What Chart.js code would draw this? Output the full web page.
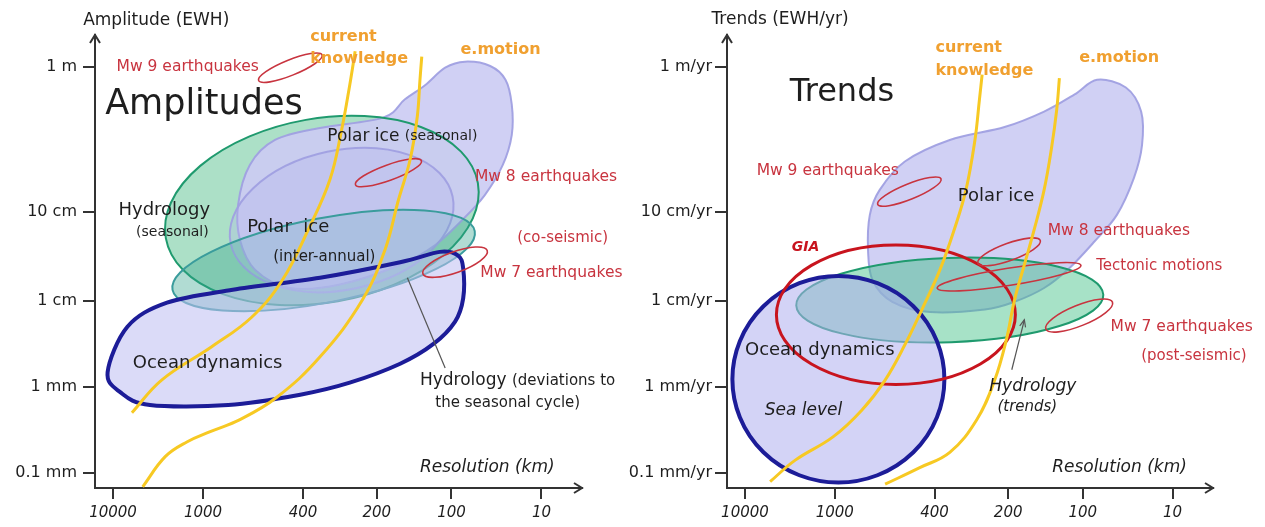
<!DOCTYPE html>
<html>
<head>
<meta charset="utf-8">
<style>
  html, body { margin: 0; padding: 0; background: #fff; }
  #wrap { position: relative; width: 1265px; height: 527px; }
  .panel { position: absolute; top: 0; height: 527px; }
  #p1 { left: 0; width: 632px; }
  #p2 { left: 612px; width: 653px; }
</style>
<script src="https://cdn.jsdelivr.net/npm/chart.js@4"></script>
</head>
<body>
<div id="wrap">
  <div class="panel" id="p1"><canvas id="amp"></canvas></div>
  <div class="panel" id="p2"><canvas id="trend"></canvas></div>
</div>
<script>
// schematic axes: ticks are not evenly spaced in log, so keep their positions
const resLabels = ['10000', '1000', '400', '200', '100', '10'];
const resTicks = [0, 1, 2.11, 2.93, 3.76, 4.76];
const ampLabels = ['0.1 mm', '1 mm', '1 cm', '10 cm', '1 m'];
const trendLabels = ['0.1 mm/yr', '1 mm/yr', '1 cm/yr', '10 cm/yr', '1 m/yr'];
const sizeTicks = [0, 1, 2, 3.03, 4.72];

// capability curves, [resolution, size] in axis units
const ampKnowledge = [[0.21,0.70],[0.54,1.08],[1.10,1.47],[1.54,1.81],[1.88,2.24],[2.17,2.83],[2.41,3.41],[2.54,3.99],[2.63,4.51],[2.69,4.90]];
const ampEmotion = [[0.33,-0.16],[0.58,0.19],[0.82,0.36],[1.08,0.48],[1.41,0.62],[1.82,0.88],[2.30,1.35],[2.77,2.01],[3.02,2.59],[3.17,3.17],[3.30,3.64],[3.38,4.14],[3.41,4.57],[3.43,4.84]];
const trendKnowledge = [[0.28,-0.10],[0.56,0.15],[0.98,0.42],[1.30,0.73],[1.56,1.08],[1.78,1.49],[1.97,1.90],[2.17,2.36],[2.33,2.83],[2.46,3.29],[2.56,3.87],[2.61,4.34],[2.64,4.63]];
const trendEmotion = [[1.56,-0.13],[1.94,0.06],[2.28,0.24],[2.58,0.62],[2.78,1.08],[2.91,1.55],[3.00,2.01],[3.11,2.42],[3.22,2.83],[3.33,3.29],[3.41,3.76],[3.47,4.22],[3.50,4.59]];

// signal ellipses: [centre res, centre size, half length (res units), half width (size units), tilt deg]
const ampHydroSeasonal = [2.32, 3.05, 1.76, 1.07, -10];
const ampHydroDev = [2.34, 2.47, 1.71, 0.49, -11];
const ampPolarInter = [2.54, 2.94, 1.26, 0.81, -12];
const ampMw9 = [1.97, 4.71, 0.38, 0.09, -22];
const ampMw8 = [3.06, 3.49, 0.39, 0.09, -20];
const ampMw7 = [3.80, 2.45, 0.38, 0.12, -20];
const trendHydro = [2.28, 2.01, 1.71, 0.49, -2];
const trendOcean = [1.04, 1.09, 1.18, 1.20, 0];
const trendGIA = [1.68, 1.84, 1.33, 0.81, 0];
const trendMw9 = [1.83, 3.27, 0.38, 0.09, -22];
const trendMw8 = [2.94, 2.57, 0.37, 0.10, -20];
const trendTectonic = [2.94, 2.28, 0.81, 0.10, -9];
const trendMw7 = [3.72, 1.83, 0.40, 0.12, -22];

// free-form signal outlines
const ampPolarSeasonal = [[1.41,2.71],[1.39,3.12],[1.52,3.58],[1.80,3.87],[2.30,4.01],[3.00,4.13],[3.24,4.34],[3.47,4.51],[3.69,4.71],[3.91,4.78],[4.19,4.73],[4.36,4.57],[4.43,4.28],[4.43,3.93],[4.33,3.58],[4.13,3.23],[3.88,2.94],[3.58,2.65],[3.19,2.42],[2.52,2.19],[1.97,2.15],[1.58,2.36]];
const ampOcean = [[-0.06,1.17],[0.16,1.70],[0.60,1.98],[1.33,2.13],[2.30,2.27],[3.19,2.45],[3.63,2.57],[3.83,2.53],[3.89,2.38],[3.89,2.03],[3.80,1.76],[3.56,1.50],[3.19,1.27],[2.63,1.05],[2.08,0.91],[1.28,0.79],[0.41,0.79],[0.08,0.94]];
const trendPolar = [[1.37,2.59],[1.39,3.00],[1.50,3.29],[1.78,3.62],[2.28,3.87],[2.89,4.02],[3.33,4.20],[3.67,4.40],[3.92,4.57],[4.24,4.48],[4.41,4.20],[4.42,3.81],[4.33,3.43],[4.14,3.00],[3.89,2.69],[3.61,2.38],[3.33,2.15],[3.00,1.99],[2.67,1.90],[2.06,1.87],[1.64,1.99],[1.42,2.24]];

const FONT = '"DejaVu Sans", sans-serif';
const INK = '#1e1e1e', RED = '#c8343f', ORANGE = '#f0a030', YELLOW = '#f7c923';
const BLUE = '#1c1c98', LAV = 'rgba(160,160,225,0.95)', GREEN = '#1f9a6e', TEAL = '#3a9c9c';

function tracePath(ctx, s, x, y) {
  ctx.beginPath();
  if (s.ellipse) {
    const [cx, cy, a, b, tilt] = s.ellipse;
    const X = x.getPixelForValue(cx), Y = y.getPixelForValue(cy);
    const A = Math.abs(x.getPixelForValue(cx + a) - X);
    const B = Math.abs(Y - y.getPixelForValue(cy + b));
    ctx.ellipse(X, Y, A, B, tilt * Math.PI / 180, 0, Math.PI * 2);
  } else {
    // closed smooth outline through the points
    const p = s.outline.map(([u, v]) => [x.getPixelForValue(u), y.getPixelForValue(v)]);
    const n = p.length;
    ctx.moveTo(p[0][0], p[0][1]);
    for (let i = 0; i < n; i++) {
      const p0 = p[(i - 1 + n) % n], p1 = p[i], p2 = p[(i + 1) % n], p3 = p[(i + 2) % n];
      ctx.bezierCurveTo(p1[0] + (p2[0] - p0[0]) / 6, p1[1] + (p2[1] - p0[1]) / 6,
                        p2[0] - (p3[0] - p1[0]) / 6, p2[1] - (p3[1] - p1[1]) / 6, p2[0], p2[1]);
    }
  }
  ctx.closePath();
}

function arrowHead(ctx, x0, y0, x1, y1, len, half) {
  const ang = Math.atan2(y1 - y0, x1 - x0);
  ctx.beginPath();
  ctx.moveTo(x1 - len * Math.cos(ang) + half * Math.sin(ang), y1 - len * Math.sin(ang) - half * Math.cos(ang));
  ctx.lineTo(x1, y1);
  ctx.lineTo(x1 - len * Math.cos(ang) - half * Math.sin(ang), y1 - len * Math.sin(ang) + half * Math.cos(ang));
  ctx.stroke();
}

// plugin built per chart so the shape list stays a plain object
function makeSketch(cfg) {
  return {
    id: 'sketch',
    beforeDatasetsDraw(chart) {
      const { ctx, scales: { x, y } } = chart;
      ctx.save();
      cfg.shapes.forEach(s => {
        tracePath(ctx, s, x, y);
        if (s.fill) { ctx.fillStyle = s.fill; ctx.fill(); }
        if (s.stroke) { ctx.strokeStyle = s.stroke; ctx.lineWidth = s.width || 2; ctx.stroke(); }
      });
      ctx.restore();
    },
    afterDraw(chart) {
      const { ctx, chartArea: ca, scales: { x, y } } = chart;
      ctx.save();
      // axis arrows
      ctx.strokeStyle = '#333'; ctx.lineWidth = 2;
      arrowHead(ctx, ca.left, ca.bottom, ca.left, ca.top, 8, 5);
      arrowHead(ctx, ca.left, ca.bottom, ca.right, ca.bottom, 8, 5);
      // pointer lines
      cfg.pointers.forEach(pt => {
        const x0 = x.getPixelForValue(pt.from[0]), y0 = y.getPixelForValue(pt.from[1]);
        const x1 = x.getPixelForValue(pt.to[0]), y1 = y.getPixelForValue(pt.to[1]);
        ctx.strokeStyle = '#555'; ctx.lineWidth = 1.2;
        ctx.beginPath(); ctx.moveTo(x0, y0); ctx.lineTo(x1, y1); ctx.stroke();
        if (pt.head) arrowHead(ctx, x0, y0, x1, y1, 7, 3);
      });
      // labels
      ctx.textBaseline = 'middle';
      ctx.textAlign = 'left';
      cfg.labels.forEach(l => {
        let px = x.getPixelForValue(l.at[0]);
        const py = y.getPixelForValue(l.at[1]);
        if (l.align === 'center') {
          let w = 0;
          l.parts.forEach(([t, f]) => { ctx.font = f + ' ' + FONT; w += ctx.measureText(t).width; });
          px -= w / 2;
        }
        l.parts.forEach(([t, f, c]) => {
          ctx.font = f + ' ' + FONT;
          ctx.fillStyle = c;
          ctx.fillText(t, px, py);
          px += ctx.measureText(t).width;
        });
      });
      ctx.restore();
    }
  };
}

function curve(data) {
  return {
    data: data.map(([x, y]) => ({ x, y })),
    showLine: true, borderColor: YELLOW, borderWidth: 3, pointRadius: 0,
    tension: 0.4, fill: false, clip: false
  };
}

function scales(sizeLabels, yWidth, yPad) {
  return {
    x: {
      type: 'linear', min: -0.2, max: 5.21,
      afterBuildTicks: s => { s.ticks = resTicks.map(v => ({ value: v })); },
      afterFit: s => { s.height = 39; },
      ticks: {
        callback: (v, i) => resLabels[i], autoSkip: false, maxRotation: 0, padding: 5,
        color: INK, font: { family: FONT, size: 15, style: 'italic' }
      },
      grid: { drawOnChartArea: false, tickLength: 11, color: '#333', lineWidth: 2 },
      border: { color: '#333', width: 2 }
    },
    y: {
      type: 'linear', min: -0.174, max: 5.09,
      afterBuildTicks: s => { s.ticks = sizeTicks.map(v => ({ value: v })); },
      afterFit: s => { s.width = yWidth; },
      ticks: {
        callback: (v, i) => sizeLabels[i], autoSkip: false, padding: yPad,
        color: INK, font: { family: FONT, size: 16 }
      },
      grid: { drawOnChartArea: false, tickLength: 12, color: '#333', lineWidth: 2 },
      border: { color: '#333', width: 2 }
    }
  };
}

const common = {
  responsive: true, maintainAspectRatio: false, animation: false, events: [],
  plugins: { legend: { display: false }, tooltip: { enabled: false } }
};

new Chart(document.getElementById('amp'), {
  type: 'scatter',
  data: { datasets: [curve(ampKnowledge), curve(ampEmotion)] },
  options: Object.assign({}, common, {
    layout: { padding: { top: 35, right: 50, left: 0, bottom: 0 } },
    scales: scales(ampLabels, 95, 6)
  }),
  plugins: [makeSketch({
    shapes: [
      { ellipse: ampHydroSeasonal, fill: 'rgba(72,186,130,0.45)' },
      { ellipse: ampHydroDev, fill: 'rgba(60,170,130,0.28)' },
      { outline: ampPolarSeasonal, fill: 'rgba(204,204,243,0.92)', stroke: LAV, width: 2 },
      { ellipse: ampPolarInter, fill: 'rgba(180,180,235,0.3)', stroke: LAV, width: 2 },
      { ellipse: ampHydroSeasonal, stroke: GREEN, width: 2 },
      { ellipse: ampHydroDev, fill: 'rgba(70,170,170,0.18)', stroke: TEAL, width: 2 },
      { outline: ampOcean, fill: 'rgba(190,190,242,0.55)', stroke: BLUE, width: 4 },
      { ellipse: ampMw9, stroke: RED, width: 1.6 },
      { ellipse: ampMw8, stroke: RED, width: 1.6 },
      { ellipse: ampMw7, stroke: RED, width: 1.6 }
    ],
    pointers: [{ from: [3.69, 1.22], to: [3.27, 2.27] }],
    labels: [
      { at: [0.48, 5.26], align: 'center', parts: [['Amplitude (EWH)', '17px', INK]] },
      { at: [1.01, 4.28], align: 'center', parts: [['Amplitudes', '35px', INK]] },
      { at: [0.83, 4.72], align: 'center', parts: [['Mw 9 earthquakes', '15.5px', RED]] },
      { at: [2.19, 5.07], parts: [['current', 'bold 16px', ORANGE]] },
      { at: [2.19, 4.81], parts: [['knowledge', 'bold 16px', ORANGE]] },
      { at: [3.86, 4.92], parts: [['e.motion', 'bold 16px', ORANGE]] },
      { at: [2.38, 3.91], parts: [['Polar ice ', '17px', INK], ['(seasonal)', '14px', INK]] },
      { at: [4.02, 3.44], parts: [['Mw 8 earthquakes', '15.5px', RED]] },
      { at: [4.49, 2.73], parts: [['(co-seismic)', '15px', RED]] },
      { at: [4.08, 2.33], parts: [['Mw 7 earthquakes', '15.5px', RED]] },
      { at: [0.57, 3.05], align: 'center', parts: [['Hydrology', '18px', INK]] },
      { at: [0.66, 2.80], align: 'center', parts: [['(seasonal)', '14px', INK]] },
      { at: [1.49, 2.85], parts: [['Polar  ice', '18px', INK]] },
      { at: [1.78, 2.51], parts: [['(inter-annual)', '15px', INK]] },
      { at: [0.22, 1.28], parts: [['Ocean dynamics', '18px', INK]] },
      { at: [3.41, 1.07], parts: [['Hydrology ', '17px', INK], ['(deviations to', '15px', INK]] },
      { at: [3.58, 0.81], parts: [['the seasonal cycle)', '15px', INK]] },
      { at: [3.41, 0.06], parts: [['Resolution (km)', 'italic 17px', INK]] }
    ]
  })]
});

new Chart(document.getElementById('trend'), {
  type: 'scatter',
  data: { datasets: [curve(trendKnowledge), curve(trendEmotion)] },
  options: Object.assign({}, common, {
    layout: { padding: { top: 35, right: 52, left: 0, bottom: 0 } },
    scales: scales(trendLabels, 115, 3)
  }),
  plugins: [makeSketch({
    shapes: [
      { outline: trendPolar, fill: 'rgba(204,204,243,0.92)', stroke: LAV, width: 2 },
      { ellipse: trendHydro, fill: 'rgba(60,190,130,0.45)', stroke: GREEN, width: 2 },
      { ellipse: trendOcean, fill: 'rgba(175,175,238,0.55)', stroke: BLUE, width: 4 },
      { ellipse: trendGIA, stroke: '#c8141e', width: 3 },
      { ellipse: trendMw9, stroke: RED, width: 1.6 },
      { ellipse: trendMw8, stroke: RED, width: 1.6 },
      { ellipse: trendTectonic, stroke: RED, width: 1.6 },
      { ellipse: trendMw7, stroke: RED, width: 1.6 }
    ],
    pointers: [{ from: [2.97, 1.20], to: [3.11, 1.78], head: true }],
    labels: [
      { at: [0.39, 5.27], align: 'center', parts: [['Trends (EWH/yr)', '17px', INK]] },
      { at: [1.08, 4.42], align: 'center', parts: [['Trends', '32px', INK]] },
      { at: [2.12, 4.94], parts: [['current', 'bold 16px', ORANGE]] },
      { at: [2.12, 4.67], parts: [['knowledge', 'bold 16px', ORANGE]] },
      { at: [3.72, 4.83], parts: [['e.motion', 'bold 16px', ORANGE]] },
      { at: [0.13, 3.51], parts: [['Mw 9 earthquakes', '15.5px', RED]] },
      { at: [2.37, 3.22], parts: [['Polar ice', '18px', INK]] },
      { at: [0.52, 2.62], parts: [['GIA', 'italic bold 14px', '#c8141e']] },
      { at: [3.37, 2.81], parts: [['Mw 8 earthquakes', '15.5px', RED]] },
      { at: [3.91, 2.40], parts: [['Tectonic motions', '15px', RED]] },
      { at: [4.07, 1.70], parts: [['Mw 7 earthquakes', '15.5px', RED]] },
      { at: [4.41, 1.36], parts: [['(post-seismic)', '15px', RED]] },
      { at: [0.00, 1.43], parts: [['Ocean dynamics', '18px', INK]] },
      { at: [0.22, 0.73], parts: [['Sea level', 'italic 17px', INK]] },
      { at: [2.72, 1.01], parts: [['Hydrology', 'italic 17px', INK]] },
      { at: [2.81, 0.77], parts: [['(trends)', 'italic 15px', INK]] },
      { at: [3.42, 0.06], parts: [['Resolution (km)', 'italic 17px', INK]] }
    ]
  })]
});
</script>
</body>
</html>
